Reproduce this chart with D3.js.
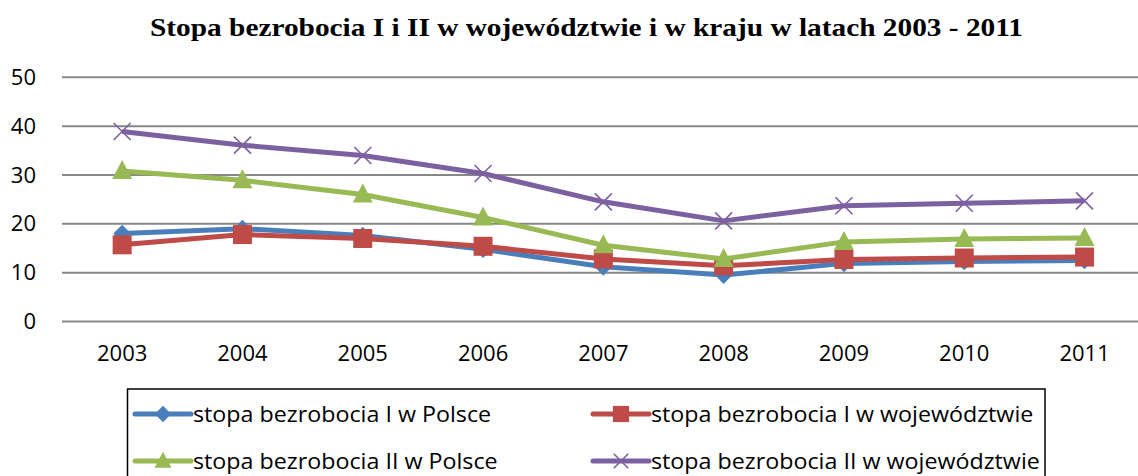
<!DOCTYPE html>
<html>
<head>
<meta charset="utf-8">
<script src="https://cdn.jsdelivr.net/npm/d3@7"></script>
<style>
  body { margin: 0; background: #fff; }
  svg { display: block; }
  text { font-family: "Open Sans", sans-serif; fill: #000; }
</style>
</head>
<body>
<svg id="chart" width="1138" height="476"></svg>
<script>
var years = ["2003", "2004", "2005", "2006", "2007", "2008", "2009", "2010", "2011"];
var polskaI = [18.0, 19.0, 17.6, 14.8, 11.2, 9.5, 11.9, 12.3, 12.5];
var wojI = [15.7, 17.8, 17.0, 15.4, 12.8, 11.4, 12.7, 13.0, 13.2];
var polskaII = [30.8, 28.9, 26.0, 21.3, 15.6, 12.8, 16.3, 16.9, 17.1];
var wojII = [38.9, 36.1, 34.0, 30.3, 24.5, 20.6, 23.7, 24.2, 24.7];
var yTicks = [0, 10, 20, 30, 40, 50];
var seriesNames = [
	"stopa bezrobocia I w Polsce",
	"stopa bezrobocia I w województwie",
	"stopa bezrobocia II w Polsce",
	"stopa bezrobocia II w województwie"
];

var series = [
	{ name: seriesNames[0], values: polskaI, color: "#4a7ebb", marker: "diamond" },
	{ name: seriesNames[1], values: wojI, color: "#be4b48", marker: "square" },
	{ name: seriesNames[2], values: polskaII, color: "#98b954", marker: "triangle" },
	{ name: seriesNames[3], values: wojII, color: "#7d60a0", marker: "cross" }
];

var svg = d3.select("#chart");

svg.append("text")
	.attr("x", 150)
	.attr("y", 36)
	.attr("textLength", 873)
	.attr("lengthAdjust", "spacingAndGlyphs")
	.style("font-family", "'Liberation Serif', 'Times New Roman', serif")
	.style("font-weight", "bold")
	.style("font-size", "26px")
	.text("Stopa bezrobocia I i II w województwie i w kraju w latach 2003 - 2011");

var x = d3.scaleBand()
	.domain(years)
	.range([62, 62 + 9 * 120.3]);

var y = d3.scaleLinear()
	.domain([0, 50])
	.range([321.5, 77.3]);

// grid lines
svg.append("g")
	.selectAll("line")
	.data(yTicks)
	.join("line")
	.attr("x1", 62)
	.attr("x2", 1138)
	.attr("y1", function(d) { return y(d); })
	.attr("y2", function(d) { return y(d); })
	.attr("stroke", "#878787")
	.attr("stroke-width", 2);

var yAxis = d3.axisLeft(y).tickValues(yTicks).tickSize(0).tickPadding(9);
svg.append("g")
	.attr("transform", "translate(45,0)")
	.call(yAxis)
	.call(function(g) { g.select(".domain").remove(); })
	.selectAll("text")
	.style("font-family", "'Open Sans', sans-serif")
	.style("font-size", "22px");

var xAxis = d3.axisBottom(x).tickSize(0).tickPadding(0);
svg.append("g")
	.attr("transform", "translate(0,345)")
	.call(xAxis)
	.call(function(g) { g.select(".domain").remove(); })
	.selectAll("text")
	.style("font-family", "'Open Sans', sans-serif")
	.style("font-size", "22px");

var line = d3.line()
	.x(function(d, i) { return x(years[i]) + x.bandwidth() / 2; })
	.y(function(d) { return y(d); });

function drawMarker(g, type, color, big) {
	var s = big ? 1 : 0.85;
	if (type === "diamond") {
		g.append("path")
			.attr("d", d3.symbol().type(d3.symbolDiamond2).size(200 * s)())
			.attr("fill", color);
	} else if (type === "square") {
		g.append("rect")
			.attr("x", -9.5 * s).attr("y", -9.5 * s)
			.attr("width", 19 * s).attr("height", 19 * s)
			.attr("fill", color);
	} else if (type === "triangle") {
		g.append("path")
			.attr("d", "M0," + (-11 * s) + "L" + (10 * s) + "," + (8 * s) + "L" + (-10 * s) + "," + (8 * s) + "Z")
			.attr("fill", color);
	} else {
		var r = 8.5 * s;
		g.append("path")
			.attr("d", "M" + (-r) + "," + (-r) + "L" + r + "," + r + "M" + (-r) + "," + r + "L" + r + "," + (-r))
			.attr("stroke", color)
			.attr("stroke-width", 1.6)
			.attr("fill", "none");
	}
}

var plot = svg.append("g");

series.forEach(function(s) {
	plot.append("path")
		.attr("d", line(s.values))
		.attr("fill", "none")
		.attr("stroke", s.color)
		.attr("stroke-width", 5)
		.attr("stroke-linejoin", "round");
	s.values.forEach(function(v, i) {
		var g = plot.append("g")
			.attr("transform", "translate(" + (x(years[i]) + x.bandwidth() / 2) + "," + y(v) + ")");
		drawMarker(g, s.marker, s.color, true);
	});
});

// legend
var legend = svg.append("g");
legend.append("rect")
	.attr("x", 127.5)
	.attr("y", 389)
	.attr("width", 917.5)
	.attr("height", 100)
	.attr("fill", "none")
	.attr("stroke", "#000")
	.attr("stroke-width", 1.5);

var legendPos = [[135, 414], [593, 414], [135, 461], [593, 461]];
series.forEach(function(s, i) {
	var p = legendPos[i];
	var g = legend.append("g").attr("transform", "translate(" + p[0] + "," + p[1] + ")");
	g.append("line")
		.attr("x1", 0).attr("x2", 56)
		.attr("stroke", s.color)
		.attr("stroke-width", 5)
		.attr("stroke-linecap", "round");
	var m = g.append("g").attr("transform", "translate(28,0)");
	drawMarker(m, s.marker, s.color, false);
	var t = g.append("text")
		.attr("x", 58)
		.attr("y", 0)
		.attr("dy", "0.35em")
		.style("font-size", "22px")
		.text(s.name);
	// the reference text is a bit wider than Open Sans
	var w = t.node().getComputedTextLength();
	t.attr("textLength", w * 1.057).attr("lengthAdjust", "spacingAndGlyphs");
});
</script>
</body>
</html>
